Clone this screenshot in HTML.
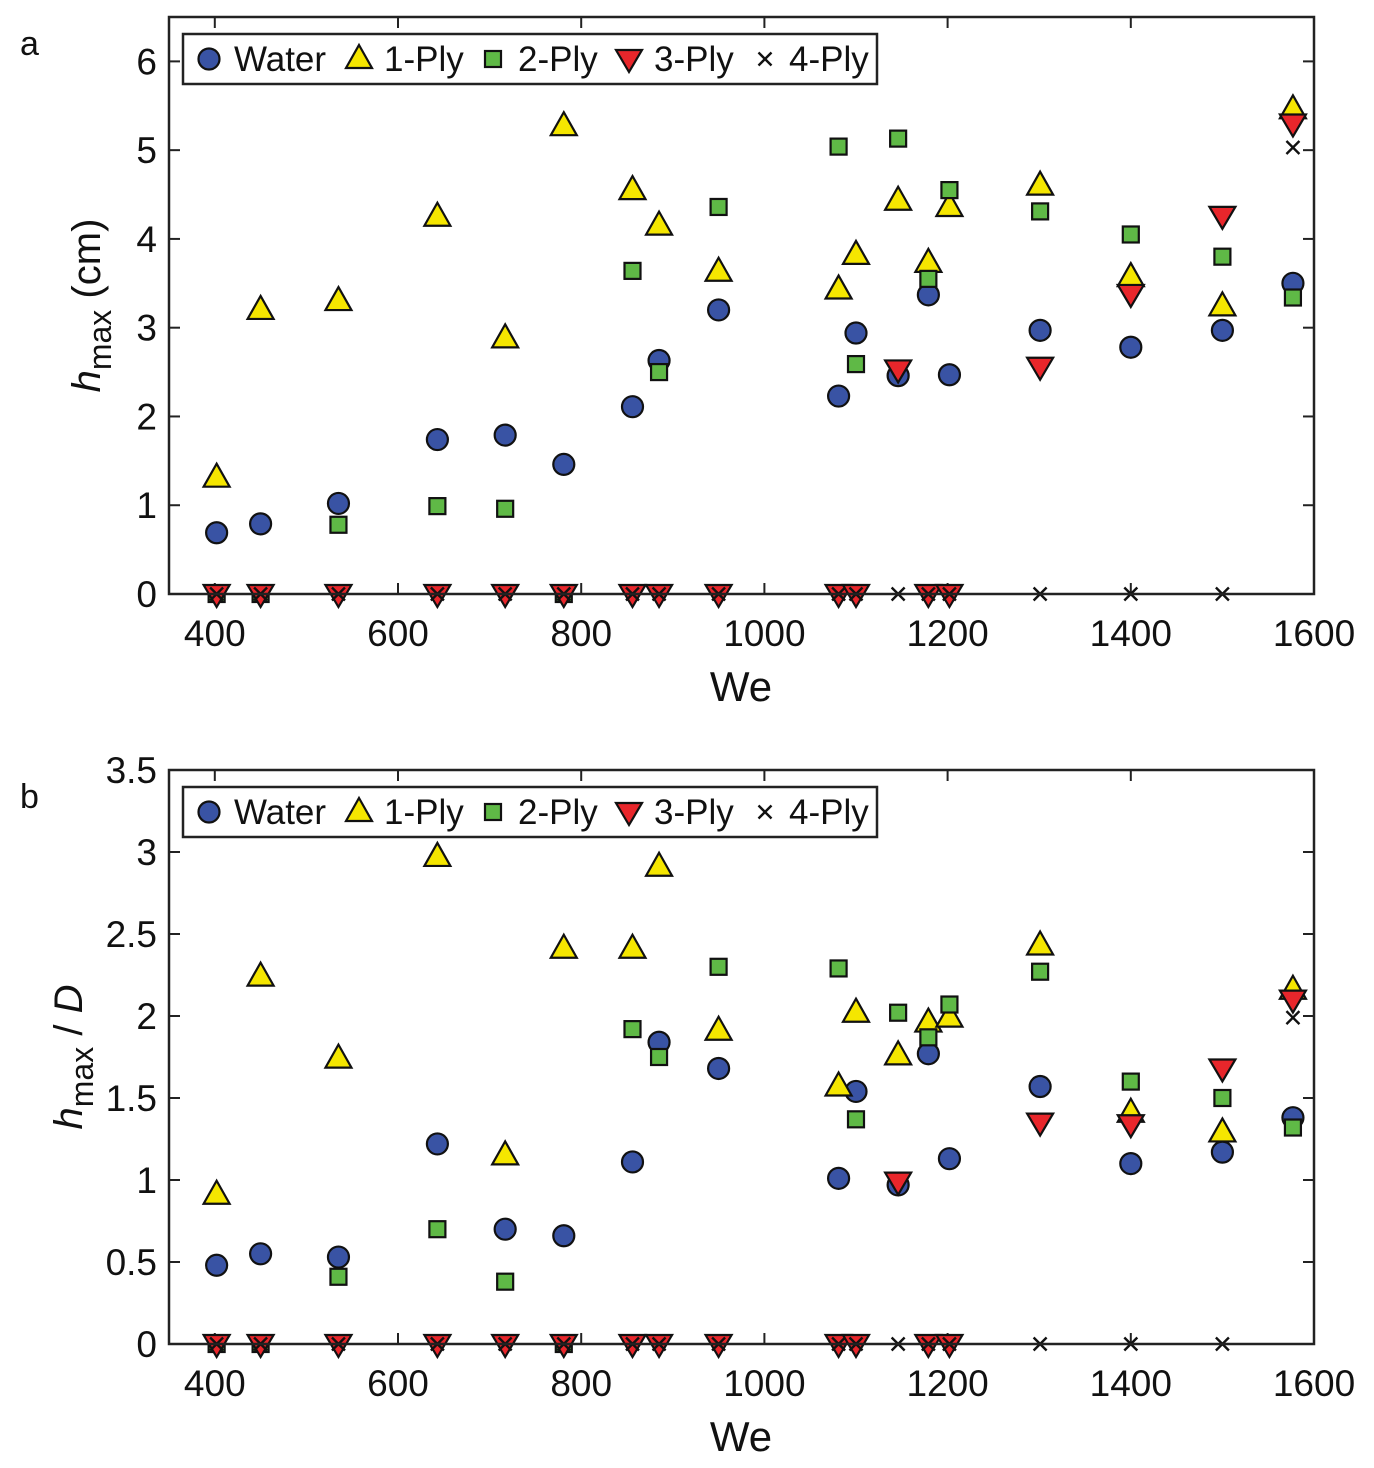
<!DOCTYPE html>
<html><head><meta charset="utf-8"><style>
html,body{margin:0;padding:0;background:#fff;}
svg{display:block;font-family:"Liberation Sans",sans-serif;}
</style></head><body>
<svg id="chart" width="1374" height="1468" viewBox="0 0 1374 1468" xmlns="http://www.w3.org/2000/svg"></svg>
<script>
const weValues=[402,450,535,643,717,781,856,885,950,1081,1100,1146,1179,1202,1301,1400,1500,1577];
const xTicks=[400,600,800,1000,1200,1400,1600];
const aWater=[0.69,0.79,1.02,1.74,1.79,1.46,2.11,2.63,3.2,2.23,2.94,2.46,3.37,2.47,2.97,2.78,2.97,3.5];
const a1Ply=[1.31,3.2,3.3,4.25,2.88,5.27,4.55,4.15,3.63,3.43,3.82,4.43,3.73,4.36,4.6,3.57,3.24,5.46];
const a2Ply=[0,0,0.78,0.99,0.96,0,3.64,2.5,4.36,5.04,2.59,5.13,3.55,4.55,4.31,4.05,3.8,3.34];
const a3Ply=[0,0,0,0,0,0,0,0,0,0,0,2.53,0,0,2.56,3.38,4.26,5.3];
const a4Ply=[0,0,0,0,0,0,0,0,0,0,0,0,0,0,0,0,0,5.03];
const aYTicks=[0,1,2,3,4,5,6];
const bWater=[0.48,0.55,0.53,1.22,0.7,0.66,1.11,1.84,1.68,1.01,1.54,0.97,1.77,1.13,1.57,1.1,1.17,1.38];
const b1Ply=[0.91,2.24,1.74,2.97,1.15,2.41,2.41,2.91,1.91,1.57,2.02,1.76,1.96,1.99,2.43,1.41,1.29,2.16];
const b2Ply=[0,0,0.41,0.7,0.38,0,1.92,1.75,2.3,2.29,1.37,2.02,1.87,2.07,2.27,1.6,1.5,1.32];
const b3Ply=[0,0,0,0,0,0,0,0,0,0,0,0.99,0,0,1.35,1.34,1.68,2.1];
const b4Ply=[0,0,0,0,0,0,0,0,0,0,0,0,0,0,0,0,0,1.99];
const bYTicks=[0,0.5,1,1.5,2,2.5,3,3.5];

const NS="http://www.w3.org/2000/svg";
const svg=document.getElementById('chart');
function mk(tag,attrs,parent){const e=document.createElementNS(NS,tag);for(const k in attrs)e.setAttribute(k,attrs[k]);(parent||svg).appendChild(e);return e;}

function marker(g,type,cx,cy){
  let e;
  if(type==='water'){e=mk('circle',{cx:cx,cy:cy,r:10.5,fill:'#3953a4',stroke:'#111','stroke-width':2.2},g);}
  else if(type==='p1'){e=mk('polygon',{points:`${cx},${cy-14} ${cx+13},${cy+9} ${cx-13},${cy+9}`,fill:'#f5e600',stroke:'#111','stroke-width':2.2},g);}
  else if(type==='p2'){e=mk('rect',{x:cx-8,y:cy-8,width:16,height:16,fill:'#5fb946',stroke:'#111','stroke-width':2.2},g);}
  else if(type==='p3'){e=mk('polygon',{points:`${cx},${cy+13} ${cx+13},${cy-9} ${cx-13},${cy-9}`,fill:'#e8262b',stroke:'#111','stroke-width':2.2},g);}
  else {e=mk('path',{d:`M${cx-6.5},${cy-6.5}L${cx+6.5},${cy+6.5}M${cx+6.5},${cy-6.5}L${cx-6.5},${cy+6.5}`,stroke:'#111','stroke-width':2.4,fill:'none'},g);}
  return e;
}

function panel(id,top,bottom,ymax,yTicks,series,ylabelSuffix,letter,ytx){
  const L=169,R=1314,xmin=350,xmax=1600;
  const xs=v=>L+(v-xmin)/(xmax-xmin)*(R-L);
  const ys=v=>bottom-v/ymax*(bottom-top);
  const g=mk('g',{});
  
  
  const lt=mk('text',{x:20,y:top+38,'font-size':34,fill:'#111'},g);lt.textContent=letter;
  
  xTicks.forEach(t=>{
    const x=xs(t);
    mk('line',{x1:x,y1:bottom,x2:x,y2:bottom-11,stroke:'#222','stroke-width':2},g);
    mk('line',{x1:x,y1:top,x2:x,y2:top+11,stroke:'#222','stroke-width':2},g);
    const tx=mk('text',{x:x,y:bottom+52,'font-size':37,'text-anchor':'middle',fill:'#111'},g);tx.textContent=t;
    
  });
  yTicks.forEach(t=>{
    const y=ys(t);
    mk('line',{x1:L,y1:y,x2:L+11,y2:y,stroke:'#222','stroke-width':2},g);
    mk('line',{x1:R,y1:y,x2:R-11,y2:y,stroke:'#222','stroke-width':2},g);
    const tx=mk('text',{x:L-12,y:y+13,'font-size':37,'text-anchor':'end',fill:'#111'},g);tx.textContent=t;
    
  });
  const xt=mk('text',{x:741,y:bottom+107,'font-size':42,'text-anchor':'middle',fill:'#111'},g);xt.textContent='We';
  
  const cy=(top+bottom)/2;
  const yt=mk('text',{transform:`translate(${ytx},${cy}) rotate(-90)`,'font-size':40,'text-anchor':'middle',fill:'#111'},g);
  
  const s1=mk('tspan',{'font-style':'italic'},yt);s1.textContent='h';
  const s2=mk('tspan',{dy:11,'font-size':32},yt);s2.textContent='max';
  const s3=mk('tspan',{dy:-11},yt);s3.innerHTML=ylabelSuffix;
  const types=['water','p1','p2','p3','p4'];
  const names=['water-series','ply1-series','ply2-series','ply3-series','ply4-series'];
  series.forEach((arr,i)=>{
    const sg=mk('g',{},g);
    
    arr.forEach((v,j)=>{
      const m=marker(sg,types[i],xs(weValues[j]),ys(v));
      
      
    });
  });
  mk('rect',{x:L,y:top,width:R-L,height:bottom-top,fill:'none',stroke:'#222','stroke-width':2.5},g);
  const lg=mk('g',{},g);
  
  const ly=top+17;
  mk('rect',{x:183,y:ly,width:694,height:50,fill:'#fff',stroke:'#222','stroke-width':2.5},lg);
  const items=[['water',209,234,'Water'],['p1',359,384,'1-Ply'],['p2',493,518,'2-Ply'],['p3',629,654,'3-Ply'],['p4',765,789,'4-Ply']];
  items.forEach(it=>{
    const e=mk('g',{},lg);
    
    marker(e,it[0],it[1],ly+25);
    const t=mk('text',{x:it[2],y:ly+37,'font-size':35,fill:'#111'},e);t.textContent=it[3];
  });
}
panel('panel-a',17,594,6.5,aYTicks,[aWater,a1Ply,a2Ply,a3Ply,a4Ply],' (cm)','a',100);
panel('panel-b',770,1344,3.5,bYTicks,[bWater,b1Ply,b2Ply,b3Ply,b4Ply],' / <tspan font-style="italic">D</tspan>','b',82);
</script>
</body></html>
